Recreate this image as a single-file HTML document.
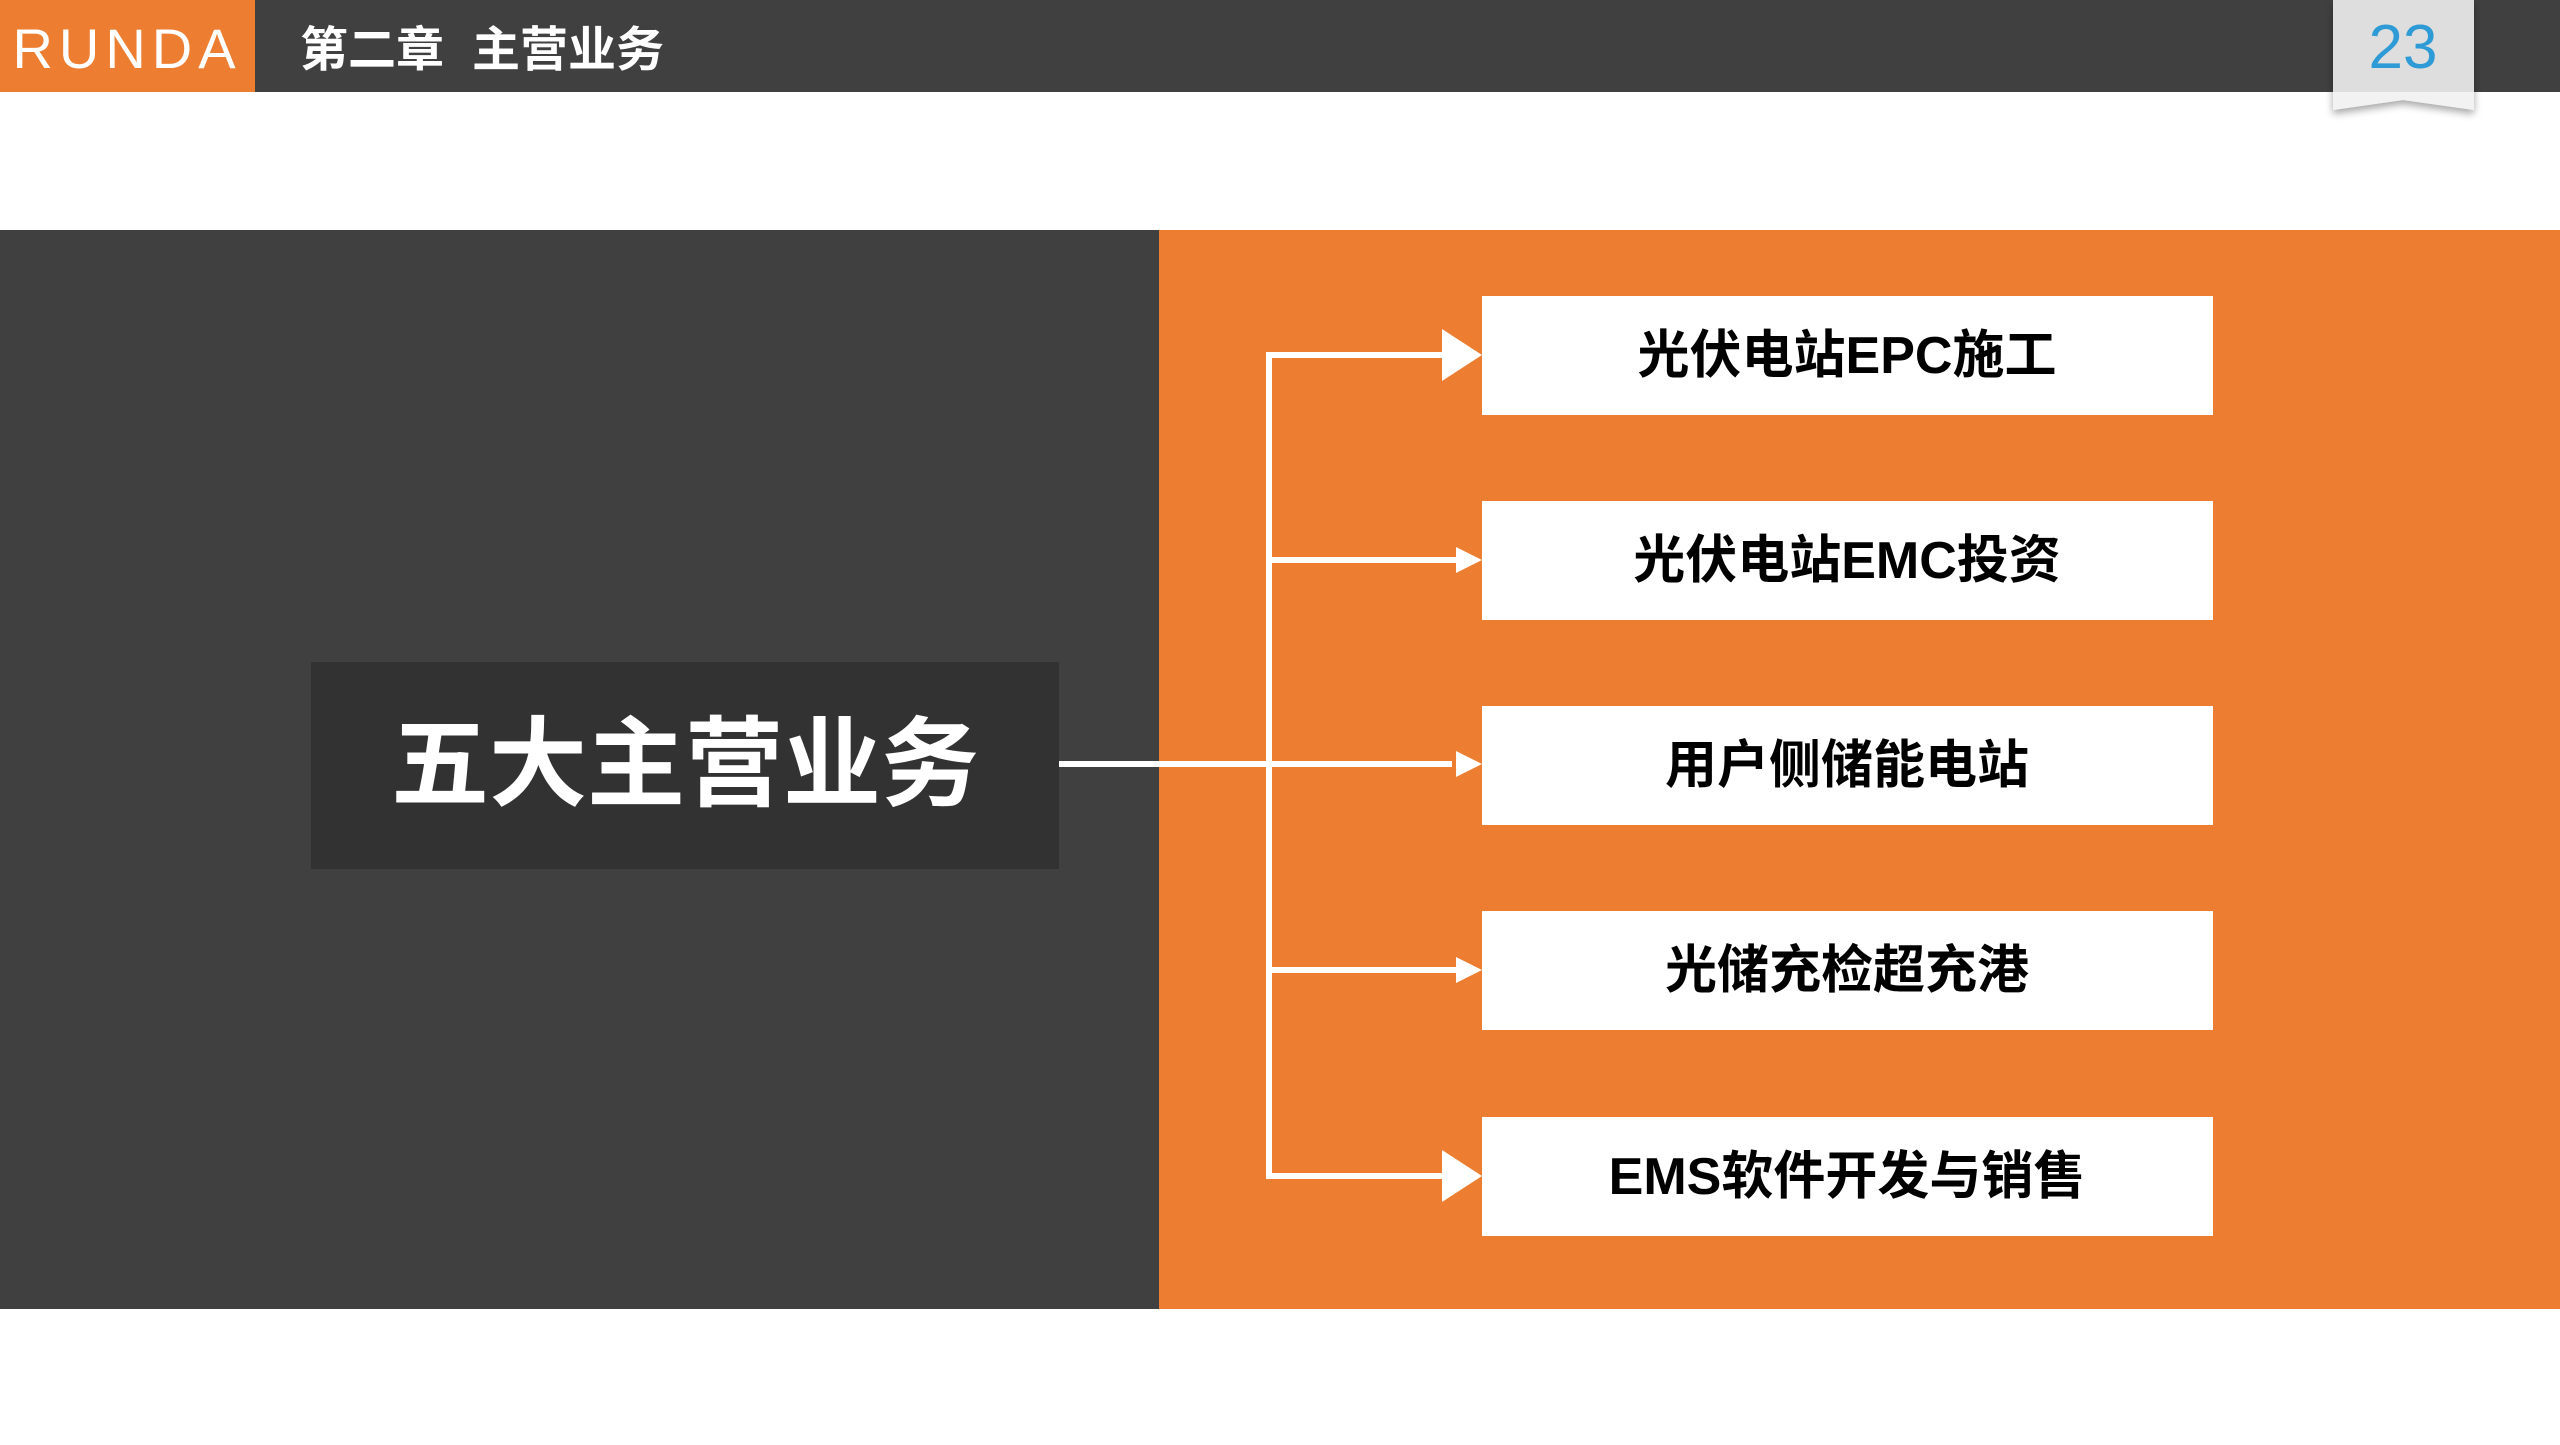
<!DOCTYPE html>
<html><head><meta charset="utf-8"><style>
html,body{margin:0;padding:0;background:#fff;}
body{width:2560px;height:1440px;overflow:hidden;}
text{font-family:"Liberation Sans","Noto Sans CJK SC",sans-serif;}
</style></head><body>
<svg width="2560" height="1440" viewBox="0 0 2560 1440" xmlns="http://www.w3.org/2000/svg">
<defs>
<filter id="sh" x="-20%" y="-20%" width="140%" height="160%"><feDropShadow dx="0" dy="4" stdDeviation="4" flood-color="#000" flood-opacity="0.35"/></filter>
</defs>
<rect x="0" y="0" width="2560" height="92" fill="#404040"/>
<rect x="0" y="0" width="255" height="92" fill="#ED7D31"/>
<text x="127" y="68" font-size="56" fill="#fff" text-anchor="middle" letter-spacing="6">RUNDA</text>
<text x="300" y="66" font-size="48" fill="#fff" font-weight="bold">第二章</text>
<text x="472" y="66" font-size="48" fill="#fff" font-weight="bold">主营业务</text>
<path d="M2333 0 H2474 V110 L2403 100 L2333 110 Z" fill="#f2f2f2" filter="url(#sh)"/>
<rect x="2333" y="0" width="141" height="92" fill="#dedede"/>
<text x="2403" y="68" font-size="62" fill="#2e9bd6" text-anchor="middle">23</text>
<rect x="0" y="230" width="1159" height="1079" fill="#404040"/>
<rect x="1159" y="230" width="1401" height="1079" fill="#ED7D31"/>
<rect x="311" y="662" width="748" height="207" fill="#333233"/>
<text x="685" y="798" font-size="98" fill="#fff" text-anchor="middle" font-weight="bold">五大主营业务</text>
<g stroke="#fff" stroke-width="6" fill="none">
<line x1="1059" y1="764" x2="1452" y2="764"/>
<line x1="1269" y1="352" x2="1269" y2="1176"/>
<line x1="1266" y1="355" x2="1450" y2="355"/>
<line x1="1266" y1="560" x2="1458" y2="560"/>
<line x1="1266" y1="970" x2="1458" y2="970"/>
<line x1="1266" y1="1176" x2="1450" y2="1176"/>
</g>
<g fill="#fff">
<polygon points="1442,329 1482,355 1442,381"/>
<polygon points="1456,547 1482,560 1456,573"/>
<polygon points="1456,751 1482,764 1456,777"/>
<polygon points="1456,957 1482,970 1456,983"/>
<polygon points="1442,1150 1482,1176 1442,1202"/>
<rect x="1482" y="296" width="731" height="119"/>
<rect x="1482" y="501" width="731" height="119"/>
<rect x="1482" y="706" width="731" height="119"/>
<rect x="1482" y="911" width="731" height="119"/>
<rect x="1482" y="1117" width="731" height="119"/>
</g>
<g font-size="52" font-weight="bold" fill="#000" text-anchor="middle">
<text x="1847" y="373">光伏电站EPC施工</text>
<text x="1847" y="578">光伏电站EMC投资</text>
<text x="1847" y="783">用户侧储能电站</text>
<text x="1847" y="988">光储充检超充港</text>
<text x="1847" y="1194">EMS软件开发与销售</text>
</g>
</svg>
</body></html>
